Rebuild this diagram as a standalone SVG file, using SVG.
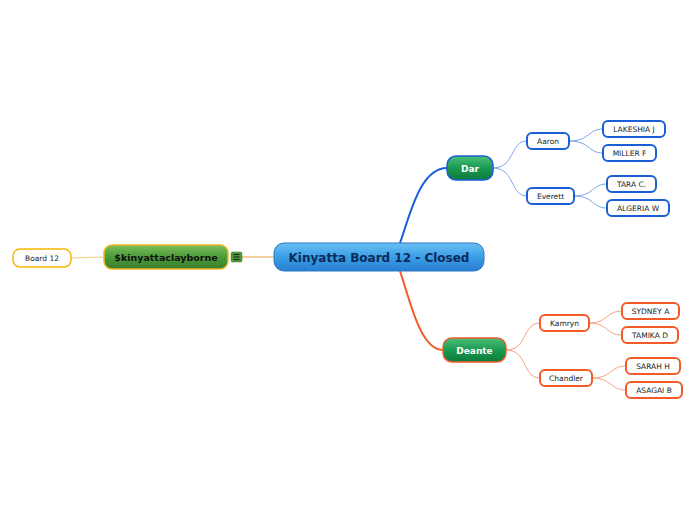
<svg xmlns="http://www.w3.org/2000/svg" width="696" height="520" viewBox="0 0 696 520">
<defs>
<linearGradient id="gBlue" x1="0" y1="0" x2="0" y2="1">
<stop offset="0" stop-color="#6cc0f2"/><stop offset="0.5" stop-color="#3a9ee6"/><stop offset="1" stop-color="#2a7fd0"/>
</linearGradient>
<linearGradient id="gGreen" x1="0" y1="0" x2="0" y2="1">
<stop offset="0" stop-color="#4cc07a"/><stop offset="0.5" stop-color="#1a9a50"/><stop offset="1" stop-color="#0e7a3c"/>
</linearGradient>
<linearGradient id="gOlive" x1="0" y1="0" x2="0" y2="1">
<stop offset="0" stop-color="#7cc05a"/><stop offset="0.5" stop-color="#4c9a3a"/><stop offset="1" stop-color="#3a7e2c"/>
</linearGradient>
</defs>
<style>
text{font-family:"DejaVu Sans","Liberation Sans",sans-serif;text-anchor:middle;dominant-baseline:central}
.leaf{font-size:7.5px;fill:#222}
.b{fill:#fff;stroke:#1a5fd8;stroke-width:2}
.o{fill:#fff;stroke:#f25a28;stroke-width:2}
.cb{fill:none;stroke:#7aa6ea;stroke-width:1}
.co{fill:none;stroke:#f8a080;stroke-width:1}
.main{font-size:9px;font-weight:bold;fill:#fff}
</style>
<g id="connectors">
<path d="M400,243 C410,215 420,168 447,168" fill="none" stroke="#1a5fd8" stroke-width="2"/>
<path d="M400,271 C410,300 420,350 443,350" fill="none" stroke="#f25a28" stroke-width="2"/>
<path d="M274,257 L242,257" fill="none" stroke="#e8a040" stroke-width="1"/>
<path d="M104,257 L71,258" fill="none" stroke="#f5cc80" stroke-width="1"/>
<path class="cb" d="M493,168 C515,168 510,141 527,141"/>
<path class="cb" d="M493,168 C515,168 510,196 527,196"/>
<path class="cb" d="M569,141 C590,141 588,129 603,129"/>
<path class="cb" d="M569,141 C590,141 588,153 603,153"/>
<path class="cb" d="M574,196 C594,196 592,184 607,184"/>
<path class="cb" d="M574,196 C594,196 592,208 607,208"/>
<path class="co" d="M506,350 C528,350 522,323 540,323"/>
<path class="co" d="M506,350 C528,350 522,378 540,378"/>
<path class="co" d="M589,323 C608,323 606,311 622,311"/>
<path class="co" d="M589,323 C608,323 606,335 622,335"/>
<path class="co" d="M592,378 C612,378 610,366 626,366"/>
<path class="co" d="M592,378 C612,378 610,390 626,390"/>
</g>
<g id="central">
<rect x="274" y="243" width="210" height="28" rx="10" fill="url(#gBlue)" stroke="#2a78c8" stroke-width="1"/>
<text x="379" y="257.5" style="font-size:12px;font-weight:bold;fill:#0c2a5a">Kinyatta Board 12 - Closed</text>
</g>
<g id="kinyattaclayborne">
<rect x="104" y="245" width="124" height="24" rx="8" fill="url(#gOlive)" stroke="#f0b828" stroke-width="1.5"/>
<text x="166" y="257.5" style="font-size:9.5px;font-weight:bold;fill:#111">$kinyattaclayborne</text>
<rect x="231" y="252" width="11" height="10" rx="1.5" fill="#4c9a3a" stroke="#3a7e2c" stroke-width="0.5"/>
<path d="M233.5,254.5h6M233.5,257h6M233.5,259.5h6" stroke="#111" stroke-width="0.9"/>
</g>
<g id="board12">
<rect x="13" y="249" width="58" height="18" rx="7" fill="#fff" stroke="#f5b800" stroke-width="1.5"/>
<text x="42" y="258.5" class="leaf">Board 12</text>
</g>
<g id="dar">
<rect x="447" y="156" width="46" height="24" rx="9" fill="url(#gGreen)" stroke="#1a5fd8" stroke-width="1.5"/>
<text x="470" y="168.5" class="main">Dar</text>
</g>
<g id="aaron"><rect class="b" x="527" y="133" width="42" height="16" rx="5"/><text x="548" y="141.5" class="leaf">Aaron</text></g>
<g id="everett"><rect class="b" x="527" y="188" width="47" height="16" rx="5"/><text x="550.5" y="196.5" class="leaf">Everett</text></g>
<g id="lakeshia"><rect class="b" x="603" y="121" width="62" height="16" rx="5"/><text x="634" y="129.5" class="leaf">LAKESHIA J</text></g>
<g id="miller"><rect class="b" x="603" y="145" width="53" height="16" rx="5"/><text x="629.5" y="153.5" class="leaf">MILLER F</text></g>
<g id="tara"><rect class="b" x="607" y="176" width="49" height="16" rx="5"/><text x="631.5" y="184.5" class="leaf">TARA C.</text></g>
<g id="algeria"><rect class="b" x="607" y="200" width="62" height="16" rx="5"/><text x="638" y="208.5" class="leaf">ALGERIA W</text></g>
<g id="deante">
<rect x="443" y="338" width="63" height="24" rx="9" fill="url(#gGreen)" stroke="#f25a28" stroke-width="1.5"/>
<text x="474.5" y="350.5" class="main">Deante</text>
</g>
<g id="kamryn"><rect class="o" x="540" y="315" width="49" height="16" rx="5"/><text x="564.5" y="323.5" class="leaf">Kamryn</text></g>
<g id="chandler"><rect class="o" x="540" y="370" width="52" height="16" rx="5"/><text x="566" y="378.5" class="leaf">Chandler</text></g>
<g id="sydney"><rect class="o" x="622" y="303" width="57" height="16" rx="5"/><text x="650.5" y="311.5" class="leaf">SYDNEY A</text></g>
<g id="tamika"><rect class="o" x="622" y="327" width="56" height="16" rx="5"/><text x="650" y="335.5" class="leaf">TAMIKA D</text></g>
<g id="sarah"><rect class="o" x="626" y="358" width="54" height="16" rx="5"/><text x="653" y="366.5" class="leaf">SARAH H</text></g>
<g id="asagai"><rect class="o" x="626" y="382" width="56" height="16" rx="5"/><text x="654" y="390.5" class="leaf">ASAGAI B</text></g>
</svg>
